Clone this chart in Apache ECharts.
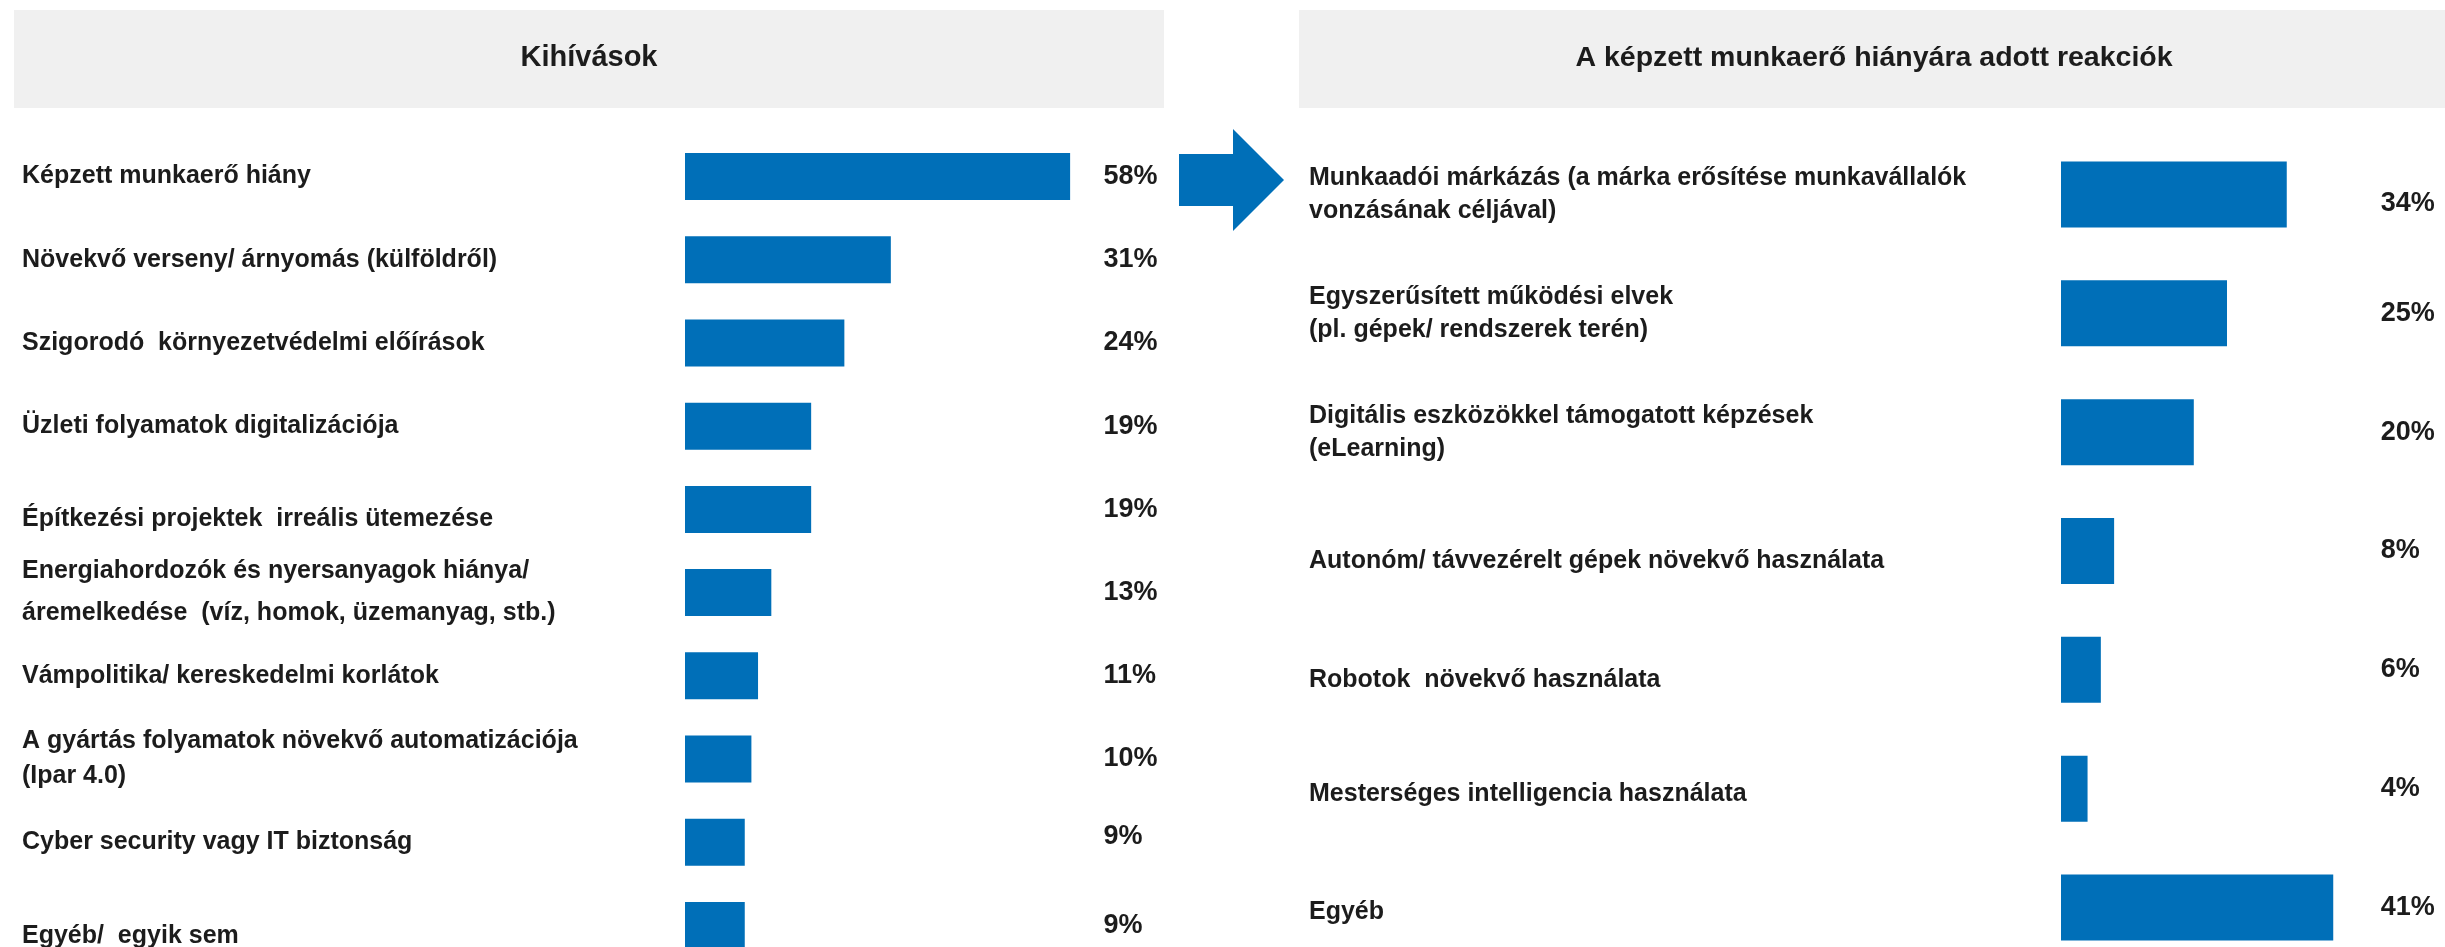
<!DOCTYPE html>
<html>
<head>
<meta charset="utf-8">
<script src="https://cdn.jsdelivr.net/npm/echarts@6/dist/echarts.min.js"></script>
<style>
html,body{margin:0;padding:0;background:#fff;}
#main{width:2445px;height:947px;}
</style>
</head>
<body>
<div id="main"></div>
<script>
var leftTitle = 'Kihívások';
var rightTitle = 'A képzett munkaerő hiányára adott reakciók';

var challenges = [
    'Képzett munkaerő hiány',
    'Növekvő verseny/ árnyomás (külföldről)',
    'Szigorodó  környezetvédelmi előírások',
    'Üzleti folyamatok digitalizációja',
    'Építkezési projektek  irreális ütemezése',
    'Energiahordozók és nyersanyagok hiánya/\náremelkedése  (víz, homok, üzemanyag, stb.)',
    'Vámpolitika/ kereskedelmi korlátok',
    'A gyártás folyamatok növekvő automatizációja\n(Ipar 4.0)',
    'Cyber security vagy IT biztonság',
    'Egyéb/  egyik sem'
];
var challengeVals = [58, 31, 24, 19, 19, 13, 11, 10, 9, 9];

var reactions = [
    'Munkaadói márkázás (a márka erősítése munkavállalók\nvonzásának céljával)',
    'Egyszerűsített működési elvek\n(pl. gépek/ rendszerek terén)',
    'Digitális eszközökkel támogatott képzések\n(eLearning)',
    'Autonóm/ távvezérelt gépek növekvő használata',
    'Robotok  növekvő használata',
    'Mesterséges intelligencia használata',
    'Egyéb'
];
var reactionVals = [34, 25, 20, 8, 6, 4, 41];

var blue = '#006fb8';
var ink = '#1c1c1c';
var fam = "'Liberation Sans', Arial, sans-serif";

// small vertical nudges of single labels, as in the slide
var leftNudge = {4: {dy: 10}, 5: {lh: 42}, 7: {lh: 35}, 9: {dy: 11}};
var leftValNudge = {8: {dy: -6}};
var rightNudge = {3: {dy: 10}, 4: {dy: 10}, 5: {dy: 5}, 6: {dy: 5}};
var rightValNudge = {0: {dy: 9}};

var dom = document.getElementById('main');
var myChart = echarts.init(dom);

// item textStyle ignores the axisLabel align, so it is set here too.
// a one-line label is shifted by anchoring its (short) line box at top/bottom
var items = function(list, lh, nudge, fmt){
    return list.map(function(t, i){
        var n = nudge[i] || {};
        var ts = {lineHeight: n.lh || lh, align: 'left', verticalAlign: 'middle'};
        if (n.dy > 0) { ts.verticalAlign = 'top'; ts.lineHeight = 2 * n.dy; }
        if (n.dy < 0) { ts.verticalAlign = 'bottom'; ts.lineHeight = -2 * n.dy; }
        return {value: fmt ? fmt(i) : t, textStyle: ts};
    });
};

var catAxis = function(grid, list, margin, lh, nudge){
    return {
        type: 'category', gridIndex: grid, inverse: true, position: 'left',
        data: items(list, lh, nudge),
        axisLine: {show: false}, axisTick: {show: false}, splitLine: {show: false},
        axisLabel: {
            interval: 0, margin: margin, align: 'left',
            color: ink, fontFamily: fam, fontWeight: 'bold', fontSize: 25
        }
    };
};
var valAxis = function(grid, vals, margin, nudge){
    return {
        type: 'category', gridIndex: grid, inverse: true, position: 'right',
        data: items(vals, 30, nudge, function(i){ return vals[i] + '%'; }),
        axisLine: {show: false}, axisTick: {show: false}, splitLine: {show: false},
        axisLabel: {
            interval: 0, margin: margin, align: 'left',
            color: ink, fontFamily: fam, fontWeight: 'bold', fontSize: 27
        }
    };
};

var option = {
    animation: false,
    backgroundColor: '#fff',
    grid: [
        {left: 685, top: 135, width: 398.4, height: 832, outerBoundsMode: 'none', containLabel: false},
        {left: 2061, top: 135, width: 298.8, height: 832, outerBoundsMode: 'none', containLabel: false}
    ],
    xAxis: [
        {type: 'value', gridIndex: 0, min: 0, max: 60, show: false},
        {type: 'value', gridIndex: 1, min: 0, max: 45, show: false}
    ],
    yAxis: [
        catAxis(0, challenges, 663, 38, leftNudge),
        valAxis(0, challengeVals, 20, leftValNudge),
        catAxis(1, reactions, 752, 33, rightNudge),
        valAxis(1, reactionVals, 21, rightValNudge)
    ],
    series: [
        {
            type: 'bar', xAxisIndex: 0, yAxisIndex: 0,
            data: challengeVals, barWidth: 47,
            itemStyle: {color: blue}
        },
        {
            type: 'bar', xAxisIndex: 1, yAxisIndex: 2,
            data: reactionVals, barWidth: 66,
            itemStyle: {color: blue}
        }
    ],
    graphic: [
        {type: 'rect', shape: {x: 14, y: 10, width: 1150, height: 98}, style: {fill: '#f0f0f0'}, z: -1},
        {type: 'rect', shape: {x: 1299, y: 10, width: 1146, height: 98}, style: {fill: '#f0f0f0'}, z: -1},
        {type: 'text', x: 589, y: 58, style: {text: leftTitle, align: 'center', verticalAlign: 'middle',
            fill: ink, fontFamily: fam, fontWeight: 'bold', fontSize: 29}},
        {type: 'text', x: 1874, y: 58, style: {text: rightTitle, align: 'center', verticalAlign: 'middle',
            fill: ink, fontFamily: fam, fontWeight: 'bold', fontSize: 28.5}},
        // arrow between the panels
        {type: 'polygon', shape: {points: [[1179,154],[1233,154],[1233,129],[1284,180],[1233,231],[1233,206],[1179,206]]},
            style: {fill: blue}}
    ]
};

if (option && typeof option === 'object') {
    myChart.setOption(option, true);
}
</script>
</body>
</html>
